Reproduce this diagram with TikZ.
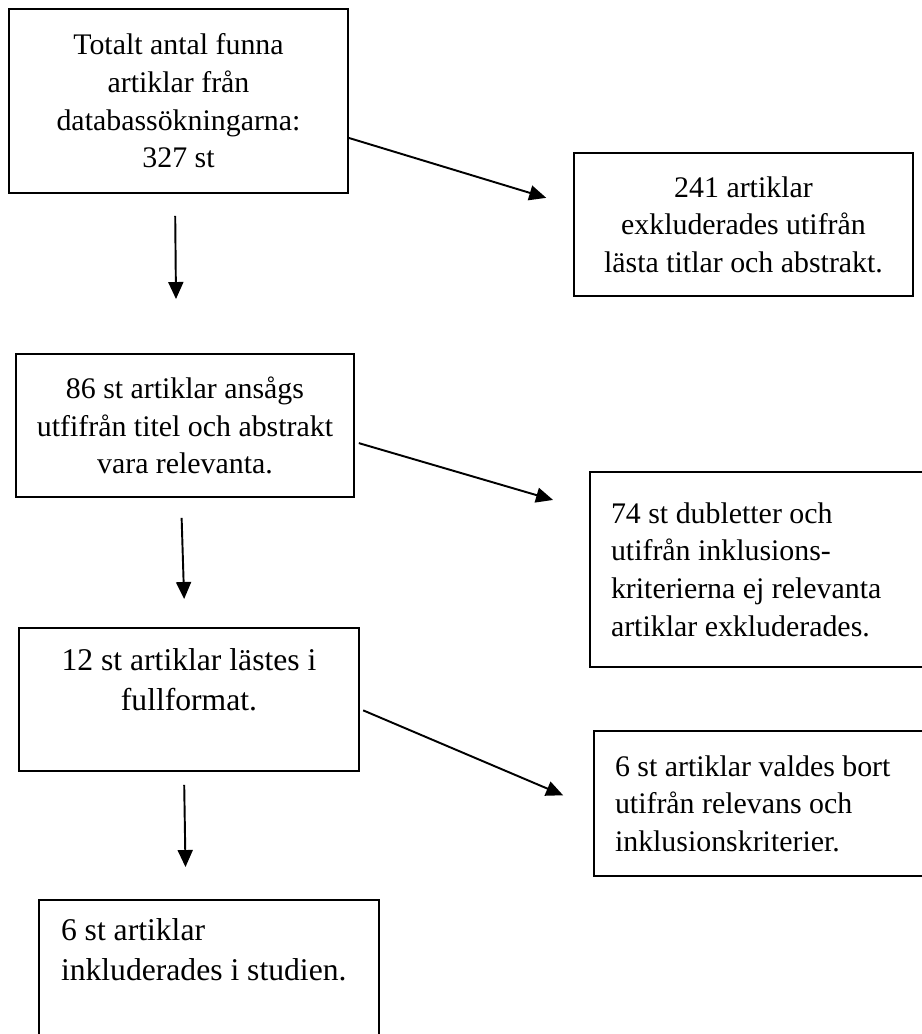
\documentclass[tikz,border=0pt]{standalone}
\usepackage{fontspec}
\setmainfont{Liberation Serif}
\usetikzlibrary{arrows.meta}

\begin{document}
\begin{tikzpicture}[x=1cm,y=1cm,>={Triangle[length=0.34cm,width=0.30cm]}]
    \tikzset{
        ruta/.style={draw,line width=1.1pt,inner sep=0pt,minimum width=6.78cm,
            minimum height=2.86cm,align=center,font=\fontsize{17}{21.4}\selectfont},
        vanster/.style={ruta,align=flush left,inner xsep=0.42cm,text width=6.16cm},
        stor/.style={font=\fontsize{18}{23}\selectfont},
        pil/.style={->,line width=1.1pt}
    }

    \useasboundingbox (0,0) rectangle (18.42,20.68);

    % huvudflödet till vänster, bortvalda artiklar till höger
    \node[ruta,minimum height=3.68cm] (totalt) at (3.57,18.66)
        {Totalt antal funna\\artiklar från\\databassökningarna:\\327 st};
    \node[ruta] (bort1) at (14.87,16.19)
        {241 artiklar\\exkluderades utifrån\\lästa titlar och abstrakt.};
    \node[ruta,minimum width=6.76cm] (relevanta) at (3.70,12.17)
        {86 st artiklar ansågs\\utfifrån titel och abstrakt\\vara relevanta.};
    \node[vanster,minimum height=3.90cm] (bort2) at (15.30,9.29)
        {74 st dubletter och\\utifrån inklusions-\\kriterierna ej relevanta\\artiklar exkluderades.};
    \node[ruta,stor,minimum width=6.80cm] (fulltext) at (3.78,6.69)
        {12 st artiklar lästes i\\fullformat.\\~};
    \node[vanster,minimum height=2.90cm] (bort3) at (15.38,4.61)
        {6 st artiklar valdes bort\\utifrån relevans och\\inklusionskriterier.};
    \node[vanster,stor,text width=5.92cm,inner xsep=0.44cm,minimum height=3.60cm]
        (studien) at (4.18,0.88)
        {6 st artiklar\\inkluderades i studien.\\~\\~};

    % pilarna börjar och slutar en bit från rutorna
    \draw[pil,shorten >=0.56cm] ([yshift=-0.74cm]totalt.east) -- ([yshift=0.37cm]bort1.west);
    \draw[pil,shorten <=0.44cm,shorten >=1.08cm] ([xshift=-0.07cm]totalt.south) -- ([xshift=-0.17cm]relevanta.north);
    \draw[pil,shorten <=0.08cm,shorten >=0.75cm] ([yshift=-0.33cm]relevanta.east) -- ([yshift=1.18cm]bort2.west);
    \draw[pil,shorten <=0.40cm,shorten >=0.56cm] ([xshift=-0.08cm]relevanta.south) -- ([xshift=-0.08cm]fulltext.north);
    \draw[pil,shorten <=0.07cm,shorten >=0.65cm] ([yshift=-0.19cm]fulltext.east) -- ([yshift=-0.09cm]bort3.west);
    \draw[pil,shorten <=0.26cm,shorten >=0.64cm] ([xshift=-0.10cm]fulltext.south) -- ([xshift=-0.46cm]studien.north);
\end{tikzpicture}
\end{document}
